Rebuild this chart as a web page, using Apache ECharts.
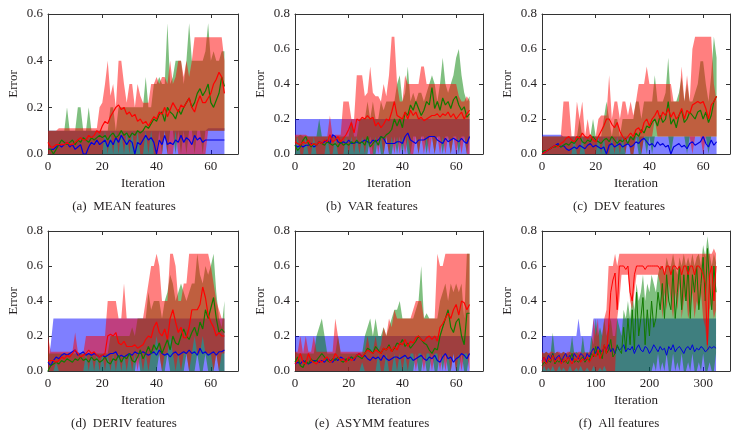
<!DOCTYPE html>
<html><head><meta charset="utf-8">
<script src="https://cdn.jsdelivr.net/npm/echarts@6/dist/echarts.min.js"></script>
<style>html,body{margin:0;padding:0;background:#fff}#c{width:739px;height:439px}</style>
</head><body><div id="c"></div>
<script>
// ---------- iterations ----------
const ITER = Array.from({length: 66}, (_, i) => i);          // iterations 0..65
const ITER_F = Array.from({length: 82}, (_, i) => i * 4);    // (f) read every 4th iteration 0..324

const CAPTIONS = ['(a)  MEAN features', '(b)  VAR features', '(c)  DEV features',
                  '(d)  DERIV features', '(e)  ASYMM features', '(f)  All features'];
const Y_MAX = [0.6, 0.8, 0.8, 0.8, 0.8, 0.8];
const X_MAX = [70, 70, 70, 70, 70, 350];
const X_STEP = [20, 20, 20, 20, 20, 100];

// ---------- (a) MEAN ----------
const A_rMax = [0.1,0.1,0.1,0.1,0.11,0.11,0.11,0.11,0.11,0.11,
0.11,0.11,0.11,0.11,0.11,0.11,0.11,0.11,0.11,0.2,
0.22,0.3,0.4,0.25,0.3,0.2,0.4,0.4,0.3,0.22,
0.3,0.3,0.2,0.3,0.25,0.22,0.22,0.22,0.3,0.3,
0.33,0.3,0.33,0.33,0.3,0.4,0.3,0.33,0.4,0.4,
0.33,0.4,0.33,0.4,0.5,0.5,0.5,0.5,0.5,0.5,
0.5,0.5,0.5,0.5,0.5,0.4];
const A_rMin = [0,0,0,0,0,0,0,0,0,0,
0,0,0,0,0,0,0,0,0,0,
0,0.1,0,0.1,0,0.1,0,0.1,0,0.1,
0,0.1,0,0.1,0,0,0.1,0,0.1,0,
0,0,0,0.1,0,0,0,0.1,0,0,
0,0,0,0,0,0,0,0,0,0.1,
0.1,0.1,0.1,0.1,0.1,0.1];
const A_rMean = [0.05,0.03,0.03,0.04,0.04,0.04,0.04,0.05,0.04,0.04,
0.05,0.06,0.07,0.06,0.06,0.08,0.07,0.08,0.1,0.09,
0.12,0.14,0.13,0.16,0.18,0.2,0.21,0.19,0.2,0.17,
0.18,0.16,0.17,0.14,0.15,0.13,0.14,0.12,0.14,0.16,
0.15,0.18,0.17,0.2,0.16,0.19,0.22,0.2,0.18,0.21,
0.2,0.22,0.24,0.2,0.18,0.22,0.25,0.22,0.22,0.24,
0.26,0.3,0.32,0.35,0.33,0.26];
const A_gMax = [0.1,0.1,0.1,0.1,0.1,0.1,0.1,0.2,0.1,0.1,
0.1,0.2,0.2,0.1,0.1,0.2,0.1,0.1,0.1,0.1,
0.1,0.1,0.1,0.2,0.2,0.1,0.2,0.2,0.2,0.2,
0.2,0.2,0.2,0.2,0.2,0.2,0.33,0.2,0.2,0.3,
0.3,0.33,0.3,0.3,0.56,0.3,0.33,0.4,0.4,0.4,
0.3,0.4,0.56,0.4,0.4,0.4,0.4,0.4,0.44,0.56,
0.4,0.44,0.4,0.4,0.44,0.44];
const A_gMin = [0,0,0,0,0,0,0,0,0,0,
0,0,0,0,0,0,0,0,0,0,
0,0,0,0,0,0,0,0,0,0,
0,0,0,0,0,0,0,0,0,0,
0,0.1,0,0.1,0,0.1,0.1,0,0.1,0,
0.1,0,0.1,0.1,0,0.1,0.1,0,0.1,0.1,
0.1,0.1,0.1,0.1,0.1,0.1];
const A_gMean = [0.02,0.02,0,0.02,0.04,0.06,0.05,0.04,0.05,0.06,
0.04,0.06,0.05,0.07,0.06,0.05,0.07,0.06,0.07,0.08,
0.07,0.08,0.06,0.08,0.09,0.07,0.08,0.1,0.08,0.09,
0.07,0.09,0.08,0.1,0.09,0.1,0.12,0.11,0.13,0.15,
0.14,0.17,0.18,0.14,0.2,0.18,0.17,0.15,0.19,0.17,
0.2,0.22,0.24,0.2,0.22,0.26,0.28,0.25,0.27,0.3,
0.22,0.2,0.23,0.26,0.33,0.29];
const A_bMax = [0.1,0.1,0.1,0.1,0.1,0.1,0.1,0.1,0.1,0.1,
0.1,0.1,0.1,0.1,0.1,0.1,0.1,0.1,0.1,0.1,
0.1,0.1,0.1,0.1,0.1,0.1,0.1,0.1,0.1,0.1,
0.1,0.1,0.1,0.1,0.1,0.1,0.1,0.1,0.1,0.1,
0.1,0.1,0.1,0.1,0.1,0.1,0.1,0.1,0.1,0.1,
0.1,0.1,0.1,0.1,0.1,0.1,0.1,0.1,0.1,0.11,
0.11,0.11,0.11,0.11,0.11,0.11];
const A_bMin = [0,0,0,0,0,0,0,0,0,0,
0,0,0,0,0,0,0,0,0,0,
0,0,0,0,0,0,0,0,0,0,
0,0,0,0,0,0,0,0,0,0,
0,0,0,0,0,0,0,0,0,0,
0,0,0,0,0,0,0,0,0,0,
0,0,0,0,0,0];
const A_bMean = [0.02,0.02,0.02,0.03,0.04,0.03,0.04,0.05,0.03,0.04,
0.02,0.03,0.04,0,0,0.03,0.05,0.04,0.06,0.04,
0.05,0.06,0.03,0.06,0.04,0.07,0.05,0.08,0.06,0.04,
0.06,0.05,0,0.05,0.04,0.06,0.08,0.06,0.07,0.05,
0,0.06,0.04,0.08,0.04,0.05,0.04,0.06,0.05,0.08,
0.05,0.07,0.06,0.04,0.08,0.06,0.07,0.05,0.06,0.06,
0.06,0.06,0.06,0.06,0.06,0.06];

// ---------- (b) VAR ----------
const B_rMax = [0.11,0.11,0.11,0.11,0.11,0.1,0.1,0.1,0.1,0.1,
0.1,0.1,0.1,0.22,0.1,0.11,0.11,0.11,0.3,0.3,
0.3,0.2,0.2,0.45,0.45,0.45,0.33,0.35,0.5,0.35,
0.33,0.33,0.3,0.4,0.33,0.45,0.67,0.67,0.4,0.3,
0.3,0.45,0.4,0.4,0.4,0.4,0.4,0.5,0.5,0.4,
0.4,0.4,0.4,0.4,0.4,0.4,0.4,0.4,0.4,0.4,
0.4,0.33,0.3,0.3,0.33,0.3];
const B_rMin = [0,0.1,0,0,0.1,0,0,0.1,0,0,
0,0,0.1,0,0,0.1,0,0,0,0.1,
0,0.1,0,0.1,0,0.1,0,0.1,0,0,
0.1,0,0.1,0,0.1,0,0.1,0,0.1,0,
0.1,0,0.1,0,0,0.1,0,0.1,0,0.1,
0,0.1,0,0.1,0,0.1,0,0.1,0,0.1,
0,0.1,0,0.1,0,0];
const B_rMean = [0.07,0.06,0.05,0.07,0.06,0.08,0.05,0.06,0.05,0.07,
0.06,0.08,0.07,0.11,0.07,0.08,0.1,0.07,0.09,0.11,
0.14,0.18,0.12,0.2,0.19,0.21,0.2,0.22,0.2,0.21,
0.16,0.18,0.15,0.17,0.2,0.19,0.24,0.3,0.22,0.21,
0.2,0.24,0.2,0.25,0.22,0.24,0.2,0.21,0.19,0.2,
0.21,0.22,0.22,0.23,0.21,0.23,0.22,0.24,0.21,0.23,
0.2,0.22,0.24,0.2,0.23,0.25];
const B_gMax = [0.1,0.1,0.11,0.1,0.1,0.1,0.1,0.1,0.1,0.2,
0.1,0.1,0.1,0.1,0.1,0.1,0.1,0.1,0.1,0.1,
0.1,0.2,0.1,0.1,0.2,0.2,0.2,0.3,0.2,0.3,
0.2,0.2,0.3,0.25,0.3,0.3,0.3,0.3,0.4,0.45,
0.3,0.35,0.5,0.3,0.35,0.3,0.35,0.35,0.3,0.35,
0.4,0.45,0.4,0.3,0.4,0.55,0.4,0.35,0.4,0.45,
0.55,0.6,0.45,0.35,0.3,0.33];
const B_gMin = [0,0,0,0,0,0,0,0,0,0,
0,0,0,0,0,0,0,0,0,0,
0,0,0,0,0,0,0,0,0.1,0,
0,0.1,0,0,0.1,0,0,0.1,0,0.1,
0,0.1,0,0,0.1,0.1,0,0.1,0.1,0,
0.1,0.1,0,0.1,0.1,0,0.1,0.1,0,0.1,
0.1,0,0.1,0.1,0,0.1];
const B_gMean = [0.05,0.02,0.04,0.08,0.1,0.06,0.04,0.06,0.05,0.07,
0.06,0.05,0.07,0.06,0.05,0.06,0.04,0.07,0.05,0.06,
0.05,0.07,0.06,0.08,0.06,0.07,0.05,0.1,0.04,0.06,
0.08,0.05,0.1,0.09,0.11,0.12,0.14,0.2,0.16,0.2,
0.15,0.24,0.22,0.28,0.25,0.3,0.26,0.22,0.25,0.3,
0.28,0.38,0.26,0.3,0.25,0.32,0.28,0.3,0.26,0.31,
0.33,0.28,0.25,0.27,0.21,0.23];
const B_bMax = [0.2,0.2,0.2,0.2,0.2,0.2,0.2,0.2,0.2,0.2,
0.2,0.2,0.2,0.2,0.2,0.2,0.2,0.2,0.2,0.2,
0.2,0.2,0.2,0.2,0.2,0.2,0.2,0.2,0.2,0.2,
0.2,0.2,0.2,0.2,0.2,0.2,0.2,0.2,0.2,0.2,
0.2,0.2,0.2,0.2,0.2,0.2,0.2,0.2,0.2,0.2,
0.2,0.2,0.2,0.2,0.2,0.2,0.2,0.2,0.2,0.2,
0.2,0.2,0.2,0.2,0.2,0.2];
const B_bMin = A_bMin;
const B_bMean = [0.05,0.04,0.05,0.04,0.05,0.05,0.06,0.04,0.05,0.07,
0.06,0.07,0.08,0.06,0.11,0.1,0.07,0.06,0.07,0.06,
0.08,0.06,0.06,0.07,0.06,0.07,0.08,0.07,0.06,0.08,
0.07,0.08,0.1,0.09,0.06,0.06,0.06,0.06,0.07,0.07,
0.06,0.1,0.12,0.08,0.07,0.06,0.08,0.08,0.08,0.09,
0.1,0.1,0.1,0.08,0.07,0.06,0.09,0.07,0.08,0.09,
0.08,0.07,0.09,0.07,0.06,0.1];

// ---------- (c) DEV ----------
const C_rMax = [0.1,0.1,0.1,0.1,0.1,0.1,0.1,0.1,0.3,0.3,
0.3,0.1,0.1,0.3,0.2,0.3,0.1,0.2,0.1,0.1,
0.1,0.2,0.22,0.22,0.22,0.45,0.2,0.3,0.3,0.2,
0.3,0.3,0.22,0.3,0.22,0.3,0.4,0.4,0.4,0.5,
0.4,0.4,0.4,0.4,0.4,0.4,0.4,0.4,0.4,0.3,
0.3,0.3,0.5,0.3,0.45,0.3,0.6,0.67,0.67,0.67,
0.67,0.67,0.67,0.67,0.4,0.3];
const C_rMin = [0,0,0,0,0,0,0,0,0,0,
0,0,0.1,0,0,0.1,0,0,0,0,
0,0.1,0,0.1,0,0,0.1,0,0.1,0,
0.1,0,0.1,0,0,0.1,0.1,0,0.1,0.1,
0.1,0.1,0.2,0.1,0.1,0.1,0.1,0.1,0.1,0.1,
0.1,0.1,0.1,0.1,0.1,0.1,0,0.1,0.1,0.1,
0,0.1,0.1,0.1,0.1,0.1];
const C_rMean = [0,0.01,0.02,0.03,0.04,0.05,0.04,0.06,0.07,0.09,
0.1,0.08,0.07,0.1,0.09,0.12,0.1,0.09,0.11,0.08,
0.07,0.1,0.13,0.16,0.2,0.2,0.17,0.15,0.18,0.13,
0.1,0.08,0.1,0.12,0.1,0.14,0.15,0.12,0.18,0.2,
0.16,0.2,0.22,0.25,0.2,0.24,0.22,0.26,0.21,0.24,
0.2,0.22,0.26,0.2,0.25,0.23,0.28,0.29,0.3,0.29,
0.3,0.26,0.2,0.28,0.3,0.33];
const C_gMax = [0.1,0.1,0.1,0.1,0.1,0.1,0.1,0.1,0.1,0.1,
0.1,0.1,0.1,0.1,0.2,0.1,0.1,0.1,0.1,0.2,
0.1,0.1,0.1,0.2,0.3,0.2,0.1,0.2,0.2,0.1,
0.2,0.2,0.2,0.2,0.2,0.3,0.3,0.2,0.3,0.3,
0.3,0.3,0.45,0.3,0.3,0.3,0.35,0.55,0.3,0.3,
0.3,0.35,0.44,0.3,0.4,0.3,0.3,0.35,0.4,0.53,
0.53,0.4,0.3,0.45,0.67,0.55];
const C_gMin = [0,0,0,0,0,0,0,0,0,0,
0,0,0,0,0,0,0,0,0,0,
0,0,0,0,0,0,0,0,0,0,
0,0,0.1,0,0,0.1,0,0,0.1,0,
0.1,0,0.1,0.1,0.1,0.1,0.1,0.1,0,0.1,
0.1,0.1,0.1,0.1,0,0.1,0.1,0.1,0.1,0.1,
0.1,0.1,0,0.1,0.1,0.1];
const C_gMean = [0.01,0.02,0.02,0.03,0.04,0.04,0.05,0.04,0.05,0.06,
0.05,0.07,0.06,0.08,0.1,0.07,0.06,0.08,0.07,0.1,
0.08,0.07,0.06,0.08,0.09,0.07,0.1,0.08,0.06,0.08,
0.07,0.09,0.06,0.1,0.08,0.12,0.1,0.14,0.12,0.16,
0.15,0.18,0.2,0.16,0.22,0.18,0.2,0.3,0.17,0.2,
0.15,0.22,0.25,0.18,0.2,0.24,0.22,0.2,0.24,0.25,
0.2,0.24,0.18,0.22,0.3,0.33];
const C_bMax = [0.11,0.11,0.11,0.11,0.11,0.11,0.11,0.11,0.1,0.1,
0.1,0.1,0.1,0.1,0.1,0.1,0.1,0.1,0.1,0.1,
0.1,0.1,0.1,0.1,0.1,0.1,0.1,0.1,0.1,0.1,
0.1,0.1,0.1,0.1,0.1,0.1,0.1,0.1,0.1,0.1,
0.1,0.1,0.1,0.1,0.1,0.1,0.1,0.1,0.1,0.1,
0.1,0.1,0.1,0.1,0.1,0.1,0.1,0.1,0.1,0.1,
0.1,0.1,0.1,0.1,0.1,0.1];
const C_bMin = A_bMin;
const C_bMean = [0.01,0.01,0.02,0.03,0.04,0.05,0.06,0.04,0.05,0.03,
0.02,0.03,0.04,0.03,0.05,0.04,0.03,0.05,0.06,0.04,
0.05,0.04,0.03,0.04,0,0.05,0.06,0.04,0.05,0.06,
0.04,0.05,0.06,0.04,0.05,0.07,0.06,0.08,0.09,0.07,
0.05,0.06,0.04,0.07,0.05,0.06,0.04,0.05,0,0.04,
0.05,0.06,0.04,0.05,0.03,0.06,0.07,0.05,0.06,0.07,
0.1,0.06,0.04,0.08,0.05,0.07];

// ---------- (d) DERIV ----------
const D_rMax = [0.2,0.11,0.11,0.11,0.11,0.11,0.11,0.11,0.11,0.11,
0.22,0.11,0.1,0.1,0.2,0.2,0.2,0.2,0.2,0.2,
0.2,0.2,0.4,0.4,0.4,0.4,0.3,0.3,0.5,0.3,
0.3,0.3,0.3,0.3,0.3,0.3,0.4,0.5,0.6,0.6,
0.67,0.6,0.4,0.4,0.4,0.67,0.67,0.6,0.4,0.4,
0.5,0.5,0.67,0.67,0.67,0.67,0.67,0.67,0.67,0.67,
0.6,0.5,0.4,0.35,0.3,0.3];
const D_rMin = [0,0,0,0.05,0,0,0,0,0,0,
0,0,0,0,0.1,0,0.1,0,0.1,0,
0.1,0,0.1,0,0.1,0,0.1,0,0.1,0,
0.1,0,0.1,0,0.1,0,0.1,0,0.1,0.1,
0.2,0.1,0,0.1,0.1,0.2,0.1,0,0.1,0,
0.1,0.1,0,0.1,0.2,0.1,0.1,0.2,0.1,0.1,
0.1,0,0.1,0,0.1,0.1];
const D_rMean = [0.06,0.06,0.06,0.05,0.06,0.08,0.07,0.09,0.08,0.1,
0.12,0.1,0.08,0.09,0.1,0.12,0.1,0.11,0.09,0.08,
0.09,0.1,0.2,0.21,0.2,0.22,0.16,0.15,0.17,0.14,
0.14,0.14,0.15,0.13,0.14,0.15,0.18,0.2,0.19,0.25,
0.28,0.22,0.2,0.24,0.18,0.3,0.35,0.28,0.22,0.25,
0.19,0.19,0.25,0.35,0.35,0.35,0.38,0.48,0.42,0.32,
0.28,0.25,0.2,0.22,0.2,0.2];
const D_gMax = [0.1,0.1,0.1,0.1,0.1,0.1,0.1,0.1,0.1,0.1,
0.1,0.1,0.1,0.1,0.1,0.1,0.1,0.1,0.1,0.1,
0.1,0.1,0.1,0.2,0.2,0.2,0.2,0.2,0.2,0.2,
0.2,0.25,0.2,0.3,0.3,0.3,0.3,0.45,0.35,0.4,
0.4,0.4,0.3,0.4,0.45,0.55,0.5,0.4,0.45,0.5,
0.45,0.4,0.45,0.5,0.5,0.67,0.55,0.5,0.6,0.55,
0.6,0.67,0.45,0.3,0.25,0.4];
const D_gMin = [0,0,0,0,0,0,0,0,0,0,
0,0,0,0,0,0,0,0,0,0,
0,0,0,0,0,0,0,0,0,0,
0,0,0,0.1,0,0,0,0,0,0,
0,0.1,0,0,0.1,0,0,0,0,0,
0,0.1,0,0,0,0.1,0,0,0.1,0,
0,0,0.1,0,0,0];
const D_gMean = [0,0.03,0.04,0.05,0.04,0.06,0.05,0.07,0.06,0.05,
0.07,0.06,0.08,0.06,0.07,0.05,0.08,0.06,0.07,0.05,
0.06,0.08,0.05,0.04,0.07,0.06,0.09,0.05,0.08,0.07,
0.1,0.06,0.05,0.08,0.12,0.07,0.1,0.14,0.1,0.15,
0.12,0.16,0.1,0.14,0.18,0.12,0.2,0.16,0.15,0.2,
0.24,0.2,0.18,0.22,0.25,0.2,0.28,0.24,0.35,0.3,
0.36,0.42,0.3,0.22,0.24,0.22];
const D_bMax = [0.05,0.15,0.3,0.3,0.3,0.3,0.3,0.3,0.3,0.3,
0.3,0.3,0.3,0.3,0.3,0.3,0.3,0.3,0.3,0.3,
0.3,0.3,0.3,0.3,0.3,0.3,0.3,0.3,0.3,0.3,
0.3,0.3,0.3,0.3,0.3,0.3,0.3,0.3,0.3,0.3,
0.3,0.3,0.3,0.3,0.3,0.3,0.3,0.3,0.3,0.3,
0.3,0.3,0.3,0.3,0.3,0.3,0.3,0.3,0.3,0.3,
0.3,0.3,0.3,0.3,0.3,0.3];
const D_bMin = A_bMin;
const D_bMean = [0.05,0.03,0.06,0.08,0.07,0.09,0.1,0.09,0.1,0.11,
0.12,0.09,0.1,0.11,0.09,0.1,0.09,0.1,0.09,0.08,
0.09,0.08,0.09,0.1,0.1,0.11,0.08,0.09,0.08,0.09,
0.1,0.09,0.11,0.1,0.1,0.11,0.1,0.09,0.1,0.11,
0.09,0.12,0.1,0.09,0.1,0.08,0.1,0.11,0.09,0.1,
0.11,0.1,0.12,0.1,0.11,0.09,0.13,0.1,0.11,0.09,
0.1,0.11,0.09,0.11,0.11,0.12];

// ---------- (e) ASYMM ----------
const E_rMax = [0.11,0.11,0.2,0.1,0.2,0.11,0.11,0.2,0.11,0.11,
0.11,0.11,0.11,0.11,0.11,0.3,0.2,0.11,0.11,0.11,
0.11,0.11,0.11,0.11,0.11,0.11,0.11,0.2,0.11,0.11,
0.2,0.11,0.15,0.25,0.2,0.3,0.25,0.35,0.3,0.3,
0.3,0.3,0.3,0.3,0.35,0.4,0.4,0.4,0.3,0.3,
0.3,0.3,0.3,0.67,0.6,0.6,0.67,0.67,0.67,0.67,
0.67,0.67,0.67,0.67,0.67,0.67];
const E_rMin = [0,0,0,0,0,0,0,0,0,0,
0,0,0,0,0,0,0,0,0,0,
0,0,0,0,0,0.05,0,0,0,0,
0,0.1,0,0,0.1,0,0,0.1,0,0.1,
0,0.1,0,0.1,0.1,0,0.1,0.1,0,0.1,
0.1,0,0.1,0.1,0,0.1,0,0.1,0,0.1,
0,0.1,0,0.1,0.1,0];
const E_rMean = [0.04,0.06,0.1,0.05,0.04,0.1,0.06,0.05,0.04,0.06,
0.05,0.07,0.08,0.05,0.06,0.1,0.08,0.06,0.07,0.05,
0.08,0.06,0.07,0.09,0.1,0.08,0.1,0.12,0.11,0.1,
0.12,0.11,0.1,0.13,0.12,0.14,0.11,0.14,0.12,0.16,
0.15,0.18,0.14,0.17,0.16,0.19,0.2,0.18,0.17,0.19,
0.2,0.18,0.2,0.17,0.25,0.27,0.3,0.33,0.3,0.35,
0.38,0.32,0.4,0.39,0.35,0.38];
const E_gMax = [0.11,0.1,0.1,0.1,0.1,0.1,0.1,0.1,0.2,0.25,
0.3,0.2,0.1,0.1,0.1,0.1,0.2,0.1,0.1,0.1,
0.1,0.1,0.1,0.1,0.1,0.1,0.2,0.25,0.3,0.2,
0.3,0.2,0.2,0.25,0.2,0.25,0.3,0.35,0.35,0.4,
0.3,0.3,0.3,0.3,0.3,0.35,0.4,0.6,0.3,0.33,
0.3,0.3,0.3,0.3,0.4,0.45,0.5,0.4,0.5,0.45,
0.5,0.45,0.5,0.3,0.67,0.67];
const E_gMin = [0,0,0,0,0,0,0,0,0,0,
0,0,0,0,0,0,0,0,0,0,
0,0,0,0,0,0,0,0,0,0,
0,0,0,0,0,0,0,0,0,0,
0,0,0,0,0,0.1,0,0,0.1,0,
0,0.1,0,0,0.1,0,0.1,0,0,0.1,
0,0,0.1,0,0,0.1];
const E_gMean = [0.05,0.08,0.03,0.02,0.06,0.04,0.07,0.05,0.06,0.08,
0.1,0.08,0.06,0.05,0.07,0.06,0.08,0.06,0.05,0.07,
0.06,0.08,0.07,0.09,0.08,0.07,0.1,0.13,0.12,0.1,
0.14,0.12,0.1,0.13,0.12,0.15,0.11,0.13,0.16,0.15,
0.18,0.14,0.16,0.13,0.15,0.17,0.2,0.18,0.16,0.15,
0.12,0.1,0.13,0.12,0.2,0.25,0.3,0.35,0.25,0.22,
0.28,0.3,0.2,0.15,0.33,0.33];
const E_bMax = B_bMax;
const E_bMin = A_bMin;
const E_bMean = [0.04,0.05,0.04,0.06,0.05,0.04,0.05,0.06,0.06,0.05,
0.06,0.05,0.07,0.06,0.05,0.07,0.06,0.08,0.07,0.06,
0.07,0.08,0.06,0.09,0.1,0.08,0.09,0.07,0.06,0.08,
0.07,0.08,0.06,0.09,0.07,0.06,0.07,0.08,0.08,0.07,
0.08,0.09,0.07,0.08,0.06,0.07,0.08,0.09,0.07,0.06,
0.08,0.07,0.09,0.06,0.05,0.08,0.1,0.07,0.08,0.05,
0.07,0.08,0.1,0.09,0.07,0.1];

// ---------- (f) All (every 4th iteration) ----------
const F_rMax = [0.11,0.1,0.11,0.1,0.11,0.11,0.1,0.11,0.11,0.1,
0.11,0.1,0.11,0.11,0.1,0.11,0.1,0.11,0.11,0.1,
0.11,0.1,0.11,0.11,0.3,0.2,0.3,0.11,0.2,0.3,
0.35,0.6,0.6,0.6,0.67,0.6,0.67,0.67,0.67,0.67,
0.67,0.67,0.67,0.67,0.67,0.67,0.67,0.67,0.67,0.67,
0.67,0.67,0.67,0.67,0.67,0.67,0.67,0.67,0.67,0.67,
0.67,0.67,0.67,0.67,0.67,0.67,0.67,0.67,0.67,0.67,
0.67,0.67,0.67,0.67,0.67,0.67,0.67,0.67,0.67,0.67,
0.7,0.67];
const F_rMin = [0,0.03,0,0.02,0,0.03,0,0,0.03,0,
0.02,0,0,0.03,0,0,0.02,0,0.03,0,
0,0.02,0,0,0.03,0,0,0.02,0,0.03,
0,0,0,0,0,0.3,0.4,0.55,0.55,0.55,
0.55,0.4,0.35,0.45,0.55,0.55,0.55,0.55,0.55,0.55,
0.55,0.55,0.55,0.55,0.55,0.5,0.3,0.45,0.35,0.5,
0.4,0.3,0.45,0.35,0.5,0.3,0.4,0.45,0.3,0.35,
0.45,0.3,0.4,0.35,0.45,0.3,0.25,0.1,0.35,0.4,
0.3,0.35];
const F_rMean = [0.05,0.08,0.04,0.07,0.06,0.09,0.05,0.07,0.08,0.04,
0.07,0.05,0.08,0.06,0.04,0.07,0.06,0.09,0.05,0.07,
0.06,0.08,0.05,0.07,0.1,0.08,0.12,0.07,0.1,0.15,
0.1,0.25,0.45,0.52,0.56,0.35,0.6,0.6,0.6,0.58,
0.6,0.45,0.4,0.55,0.6,0.6,0.6,0.6,0.58,0.6,
0.6,0.6,0.6,0.6,0.6,0.58,0.6,0.55,0.6,0.6,
0.55,0.6,0.6,0.58,0.6,0.55,0.6,0.6,0.55,0.6,
0.6,0.55,0.6,0.6,0.58,0.55,0.5,0.15,0.55,0.6,
0.4,0.6];
const F_gMax = [0.1,0.1,0.11,0.1,0.1,0.22,0.1,0.11,0.1,0.1,
0.11,0.1,0.1,0.11,0.2,0.1,0.11,0.1,0.1,0.2,
0.1,0.11,0.1,0.2,0.15,0.3,0.2,0.25,0.2,0.3,
0.2,0.25,0.3,0.2,0.2,0.3,0.25,0.2,0.35,0.3,
0.4,0.3,0.45,0.35,0.5,0.4,0.45,0.55,0.4,0.5,
0.45,0.55,0.5,0.45,0.55,0.6,0.6,0.55,0.65,0.6,
0.6,0.67,0.6,0.55,0.65,0.6,0.67,0.6,0.65,0.6,
0.67,0.6,0.65,0.67,0.6,0.72,0.65,0.77,0.67,0.6,
0.67,0.62];
const F_gMin = [0,0,0,0,0,0,0,0,0,0,
0,0,0,0,0,0,0,0,0,0,
0,0,0,0,0,0,0,0,0,0,
0,0,0,0,0,0,0,0,0,0,
0,0,0,0,0,0,0,0,0,0,
0,0,0.05,0,0.1,0,0.05,0,0.1,0,
0,0.1,0,0.05,0,0.1,0,0,0.05,0,
0.1,0,0,0.05,0,0.1,0,0,0.05,0,
0,0.1];
const F_gMean = [0.03,0.05,0.04,0.06,0.05,0.1,0.04,0.06,0.05,0.07,
0.05,0.06,0.04,0.07,0.1,0.05,0.06,0.05,0.07,0.08,
0.05,0.07,0.06,0.1,0.08,0.14,0.09,0.12,0.07,0.15,
0.1,0.12,0.18,0.08,0.1,0.15,0.12,0.1,0.25,0.12,
0.3,0.15,0.35,0.12,0.45,0.2,0.3,0.42,0.15,0.35,
0.2,0.4,0.25,0.3,0.45,0.35,0.5,0.3,0.55,0.4,
0.35,0.58,0.3,0.45,0.6,0.35,0.55,0.4,0.6,0.3,
0.55,0.45,0.6,0.35,0.5,0.65,0.4,0.7,0.5,0.35,
0.6,0.45];
const F_bMax = [0.2,0.2,0.2,0.2,0.2,0.2,0.2,0.2,0.2,0.2,
0.2,0.2,0.2,0.2,0.2,0.2,0.2,0.3,0.2,0.2,
0.2,0.2,0.2,0.2,0.3,0.3,0.3,0.3,0.3,0.3,
0.3,0.3,0.3,0.3,0.3,0.3,0.3,0.3,0.3,0.3,
0.3,0.3,0.3,0.3,0.3,0.3,0.3,0.3,0.3,0.3,
0.3,0.3,0.3,0.3,0.3,0.3,0.3,0.3,0.3,0.3,
0.3,0.3,0.3,0.3,0.3,0.3,0.3,0.3,0.3,0.3,
0.3,0.3,0.3,0.3,0.3,0.3,0.3,0.3,0.3,0.3,
0.3,0.3];
const F_bMin = [0,0,0,0,0,0,0,0,0,0,
0,0,0,0,0,0,0,0,0,0,
0,0,0,0,0,0,0,0,0,0,
0,0,0,0,0,0,0,0,0,0,
0,0,0,0,0,0,0,0,0,0,
0,0,0,0,0,0,0,0,0,0,
0,0,0,0,0,0,0,0,0,0,
0,0,0,0,0,0,0,0,0,0,
0,0];
const F_bMean = [0.06,0.08,0.05,0.09,0.07,0.1,0.06,0.08,0.09,0.05,
0.08,0.1,0.07,0.09,0.06,0.1,0.08,0.07,0.1,0.09,
0.06,0.1,0.08,0.11,0.13,0.1,0.14,0.12,0.11,0.14,
0.12,0.15,0.11,0.13,0.1,0.14,0.12,0.13,0.15,0.11,
0.13,0.12,0.14,0.1,0.13,0.15,0.12,0.11,0.14,0.13,
0.1,0.12,0.15,0.13,0.11,0.14,0.12,0.13,0.09,0.14,
0.12,0.15,0.11,0.13,0.14,0.12,0.1,0.13,0.14,0.12,
0.15,0.11,0.13,0.12,0.14,0.13,0.11,0.12,0.14,0.13,
0.14,0.13];

// ---------- assemble ----------
const PANELS = [
  {x: ITER, r: [A_rMin, A_rMax, A_rMean], g: [A_gMin, A_gMax, A_gMean], b: [A_bMin, A_bMax, A_bMean]},
  {x: ITER, r: [B_rMin, B_rMax, B_rMean], g: [B_gMin, B_gMax, B_gMean], b: [B_bMin, B_bMax, B_bMean]},
  {x: ITER, r: [C_rMin, C_rMax, C_rMean], g: [C_gMin, C_gMax, C_gMean], b: [C_bMin, C_bMax, C_bMean]},
  {x: ITER, r: [D_rMin, D_rMax, D_rMean], g: [D_gMin, D_gMax, D_gMean], b: [D_bMin, D_bMax, D_bMean]},
  {x: ITER, r: [E_rMin, E_rMax, E_rMean], g: [E_gMin, E_gMax, E_gMean], b: [E_bMin, E_bMax, E_bMean]},
  {x: ITER_F, r: [F_rMin, F_rMax, F_rMean], g: [F_gMin, F_gMax, F_gMean], b: [F_bMin, F_bMax, F_bMean]}
];

const FONT = '"Liberation Serif", "Times New Roman", serif';
const TXT = '#231f20';
const FRAME = '#333';
const GRIDS = [
  {left: 48, top: 14, width: 190, height: 140},
  {left: 295, top: 14, width: 188, height: 140},
  {left: 542, top: 14, width: 188, height: 140},
  {left: 48, top: 231, width: 190, height: 140},
  {left: 295, top: 231, width: 188, height: 140},
  {left: 542, top: 231, width: 188, height: 140}
];
const CAP_POS = [[124, 207], [372, 207], [619, 207], [124, 424], [372, 424], [619, 424]];
const COL = {
  r: {fill: 'rgba(255,0,0,0.5)', line: '#ff0000'},
  g: {fill: 'rgba(0,128,0,0.5)', line: '#117a00'},
  b: {fill: 'rgba(0,0,255,0.5)', line: '#0000e0'}
};

// band drawn as one polygon through the axis scales (api.coord)
function bandSeries(g, xsArr, lo, hi, fill) {
  return {
    type: 'custom', xAxisIndex: 2 * g, yAxisIndex: 2 * g, silent: true, animation: false, clip: true,
    encode: {x: 0, y: [1, 2]},
    data: xsArr.map((x, i) => [x, lo[i], hi[i]]),
    renderItem: (params, api) => {
      if (params.dataIndex !== 0) return null;
      const top = [], bot = [];
      for (let i = 0; i < xsArr.length; i++) {
        top.push(api.coord([xsArr[i], hi[i]]));
        bot.push(api.coord([xsArr[i], lo[i]]));
      }
      return {type: 'polygon', shape: {points: top.concat(bot.reverse())},
              style: {fill, stroke: null}};
    }
  };
}

const xAxes = [], yAxes = [], series = [], graphics = [];
PANELS.forEach((p, g) => {
  const xs = X_STEP[g];
  const common = {gridIndex: g, type: 'value', min: 0, splitLine: {show: false},
    axisLine: {show: true, onZero: false, lineStyle: {color: FRAME, width: 1}},
    axisTick: {show: true, inside: true, length: 4, lineStyle: {color: FRAME, width: 1}}};
  xAxes.push(Object.assign({}, common, {position: 'bottom', max: X_MAX[g], interval: xs,
    name: 'Iteration', nameLocation: 'middle', nameGap: 23,
    nameTextStyle: {fontFamily: FONT, fontSize: 13, color: TXT},
    axisLabel: {fontFamily: FONT, fontSize: 13, color: TXT, margin: 6,
      formatter: v => (Math.abs(v % xs) < 1e-9 ? String(v) : '')}}));
  xAxes.push(Object.assign({}, common, {position: 'top', max: X_MAX[g], interval: xs, axisLabel: {show: false}}));
  yAxes.push(Object.assign({}, common, {position: 'left', max: Y_MAX[g], interval: 0.2,
    name: 'Error', nameLocation: 'middle', nameGap: 28,
    nameTextStyle: {fontFamily: FONT, fontSize: 13, color: TXT},
    axisLabel: {fontFamily: FONT, fontSize: 13, color: TXT, margin: 5, formatter: v => v.toFixed(1)}}));
  yAxes.push(Object.assign({}, common, {position: 'right', max: Y_MAX[g], interval: 0.2, axisLabel: {show: false}}));

  ['b', 'g', 'r'].forEach(k => {
    series.push(bandSeries(g, p.x, p[k][0], p[k][1], COL[k].fill));
  });
  ['b', 'g', 'r'].forEach(k => {
    const mean = p[k][2];
    series.push({type: 'line', xAxisIndex: 2 * g, yAxisIndex: 2 * g, symbol: 'none', silent: true,
      animation: false, z: 3,
      lineStyle: {color: COL[k].line, width: g === 5 ? 1 : 1.2},
      data: p.x.map((x, i) => [x, mean[i]])});
  });

  graphics.push({type: 'text', x: CAP_POS[g][0], y: CAP_POS[g][1],
    style: {text: CAPTIONS[g], font: '13px ' + FONT, fill: TXT, align: 'center', verticalAlign: 'middle',
      textAlign: 'center', textVerticalAlign: 'middle'}});
});

const chart = echarts.init(document.getElementById('c'), null, {renderer: 'canvas'});
chart.setOption({
  animation: false,
  backgroundColor: '#fff',
  grid: GRIDS,
  xAxis: xAxes,
  yAxis: yAxes,
  series,
  graphic: graphics
});
</script>
</body></html>
